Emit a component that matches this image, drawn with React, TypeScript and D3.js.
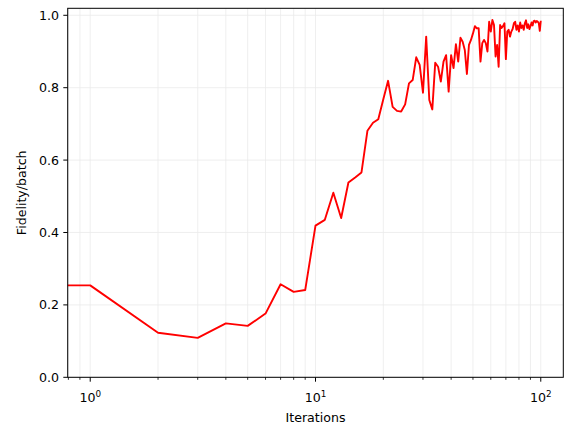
import React from "react";
import * as d3 from "d3";

const fidelity: number[] = [
  0.254, 0.254, 0.123, 0.109, 0.149, 0.142, 0.176, 0.257, 0.236, 0.241,
  0.419, 0.435, 0.510, 0.440, 0.538, 0.552, 0.566, 0.681, 0.703, 0.713,
  0.768, 0.819, 0.747, 0.736, 0.734, 0.754, 0.812, 0.821, 0.884, 0.863,
  0.786, 0.941, 0.766, 0.740, 0.869, 0.858, 0.817, 0.872, 0.890, 0.789,
  0.890, 0.854, 0.920, 0.872, 0.938, 0.927, 0.904, 0.838, 0.918, 0.932,
  0.950, 0.970, 0.964, 0.964, 0.872, 0.923, 0.932, 0.923, 0.900, 0.982,
  0.955, 0.987, 0.973, 0.886, 0.918, 0.858, 0.973, 0.965, 0.970, 0.978,
  0.879, 0.955, 0.960, 0.941, 0.955, 0.962, 0.978, 0.982, 0.960, 0.972,
  0.955, 0.980, 0.965, 0.972, 0.960, 0.978, 0.986, 0.965, 0.975, 0.962,
  0.970, 0.980, 0.972, 0.984, 0.985, 0.980, 0.984, 0.982, 0.978, 0.957,
  0.985,
];
const iterations: number[] = fidelity.map((_, i) => i);

const yTicks = [0, 0.2, 0.4, 0.6, 0.8, 1.0];
const xMajorTicks = [1, 10, 100];
const xMinorTicks = [0.8, 0.9, 2, 3, 4, 5, 6, 7, 8, 9, 20, 30, 40, 50, 60, 70, 80, 90];
const xExponents = ["0", "1", "2"];

const W = 581;
const H = 432;
const left = 67.7;
const right = 563.3;
const top = 8.3;
const bottom = 377.3;

export default function App() {
  const x = d3.scaleLog().domain([Math.pow(10, -0.1), Math.pow(10, 2.1)]).range([left, right]);
  const y = d3.scaleLinear().domain([0, 1.0193]).range([bottom, top]);
  const xPos = (n: number) => (n > 0 ? x(n) : x(1e-6));
  const line = d3
    .line<number>()
    .x((_, i) => xPos(iterations[i]))
    .y((d) => y(d));
  const font = "DejaVu Sans, sans-serif";
  const fs = 12.6;
  const gridColor = "#ebebeb";
  return (
    <svg width={W} height={H} style={{ position: "absolute", left: 0, top: 0, background: "#fff" }}>
      <defs>
        <clipPath id="plotclip">
          <rect x={left} y={top} width={right - left} height={bottom - top} />
        </clipPath>
      </defs>
      <rect x={0} y={0} width={W} height={H} fill="#fff" />
      {/* grid */}
      {[...xMinorTicks, ...xMajorTicks].map((t) => (
        <line key={"gx" + t} x1={x(t)} x2={x(t)} y1={top} y2={bottom} stroke={gridColor} strokeWidth={0.8} />
      ))}
      {yTicks.map((t) => (
        <line key={"gy" + t} x1={left} x2={right} y1={y(t)} y2={y(t)} stroke={gridColor} strokeWidth={0.8} />
      ))}
      <path d={line(fidelity) || ""} fill="none" stroke="#ff0000" strokeWidth={1.9} clipPath="url(#plotclip)" strokeLinejoin="round" />
      <rect x={left} y={top} width={right - left} height={bottom - top} fill="none" stroke="#000" strokeWidth={1} />
      {/* y ticks */}
      {yTicks.map((t) => (
        <g key={"yt" + t}>
          <line x1={left - 4.4} x2={left} y1={y(t)} y2={y(t)} stroke="#000" strokeWidth={1} />
          <text x={left - 8.6} y={y(t)} dy="0.35em" textAnchor="end" fontFamily={font} fontSize={fs}>
            {d3.format(".1f")(t)}
          </text>
        </g>
      ))}
      {/* x ticks */}
      {xMinorTicks.map((t) => (
        <line key={"xm" + t} x1={x(t)} x2={x(t)} y1={bottom} y2={bottom + 2.5} stroke="#000" strokeWidth={0.8} />
      ))}
      {xMajorTicks.map((t, i) => (
        <g key={"xt" + t}>
          <line x1={x(t)} x2={x(t)} y1={bottom} y2={bottom + 4.4} stroke="#000" strokeWidth={1} />
          <text x={x(t)} y={402} textAnchor="middle" fontFamily={font} fontSize={fs}>
            10
            <tspan fontSize={fs * 0.7} dy={-5.5}>{xExponents[i]}</tspan>
          </text>
        </g>
      ))}
      <text x={(left + right) / 2} y={422} textAnchor="middle" fontFamily={font} fontSize={fs}>
        Iterations
      </text>
      <text
        transform={`translate(26,${(top + bottom) / 2}) rotate(-90)`}
        textAnchor="middle"
        fontFamily={font}
        fontSize={fs}
      >
        Fidelity/batch
      </text>
    </svg>
  );
}
